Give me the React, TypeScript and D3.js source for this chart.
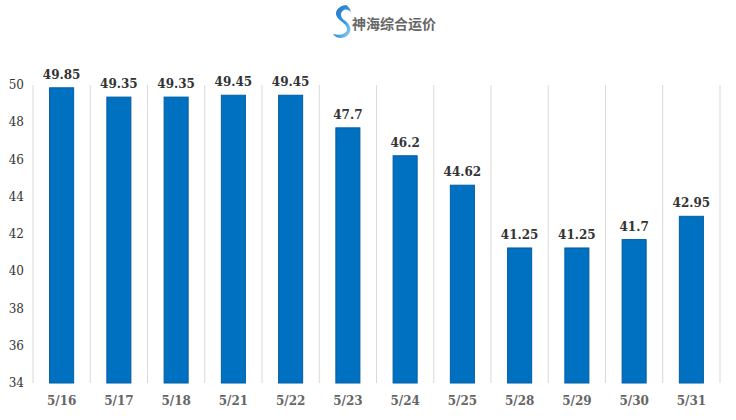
import * as d3 from 'd3';

const categories = ['5/16', '5/17', '5/18', '5/21', '5/22', '5/23', '5/24', '5/25', '5/28', '5/29', '5/30', '5/31'];
const values = [49.85, 49.35, 49.35, 49.45, 49.45, 47.7, 46.2, 44.62, 41.25, 41.25, 41.7, 42.95];
const yTicks = [34, 36, 38, 40, 42, 44, 46, 48, 50];
const title = '神海综合运价';

const W = 736;
const H = 420;
const MARGIN = { top: 85, right: 16, bottom: 37, left: 33 };

const BAR = '#0070c0';
const BAR_EDGE = '#005da3';
const GRID = '#d9d9d9';
const SERIF = '"DejaVu Serif", "Liberation Serif", serif';

export default function App() {
  const innerW = W - MARGIN.left - MARGIN.right;
  const innerH = H - MARGIN.top - MARGIN.bottom;

  const x = d3.scaleBand<string>().domain(categories).range([0, innerW]).paddingInner(0).paddingOuter(0);
  const y = d3.scaleLinear().domain([34, 50]).range([innerH, 0]);
  const bw = x.bandwidth() * 0.42;
  const bounds = [...categories.map((c) => x(c) as number), innerW];

  return (
    <svg width={W} height={H} style={{ position: 'absolute', left: 0, top: 0, background: '#fff' }}>
      <defs>
        <linearGradient id="logo-grad" x1="0" y1="0" x2="1" y2="1">
          <stop offset="0%" stopColor="#1f6fc4" />
          <stop offset="60%" stopColor="#3a9be0" />
          <stop offset="100%" stopColor="#a8d8f5" />
        </linearGradient>
      </defs>
      {/* header logo */}
      <g transform="translate(331,5)">
        <path
          d="M15 0 C7 1 3 7 6 12 C9 17 17 19 16 25 C15 29 9 31 2 29 C5 34 13 34 17 30 C22 25 19 19 13 15 C9 12 9 7 13 5 C15 4 18 5 20 7 C19 3 17 1 15 0 Z"
          fill="url(#logo-grad)"
        />
      </g>
      <text
        x={352}
        y={29}
        fontFamily="'Noto Sans CJK SC', sans-serif"
        fontWeight={700}
        fontSize={14}
        fill="#666"
      >
        {title}
      </text>

      <g transform={`translate(${MARGIN.left},${MARGIN.top})`}>
        {bounds.map((bx, i) => (
          <line key={i} x1={bx} x2={bx} y1={0} y2={innerH} stroke={GRID} strokeWidth={1} />
        ))}

        {yTicks.map((t) => (
          <text
            key={t}
            x={-9}
            y={y(t)}
            textAnchor="end"
            dominantBaseline="central"
            fontFamily={SERIF}
            fontSize={12}
            fill="#333"
          >
            {t}
          </text>
        ))}

        {categories.map((c, i) => {
          const cx = (x(c) as number) + x.bandwidth() / 2;
          const v = values[i];
          return (
            <g key={c}>
              <rect
                x={cx - bw / 2}
                y={y(v)}
                width={bw}
                height={innerH - y(v)}
                fill={BAR}
                stroke={BAR_EDGE}
                strokeWidth={1}
              />
              <text
                x={cx}
                y={y(v) - 9}
                textAnchor="middle"
                fontFamily={SERIF}
                fontWeight={700}
                fontSize={12}
                fill="#333"
              >
                {String(v)}
              </text>
              <text
                x={cx}
                y={innerH + 22}
                textAnchor="middle"
                fontFamily={SERIF}
                fontWeight={700}
                fontSize={12}
                fill="#666"
              >
                {c}
              </text>
            </g>
          );
        })}
      </g>
    </svg>
  );
}
